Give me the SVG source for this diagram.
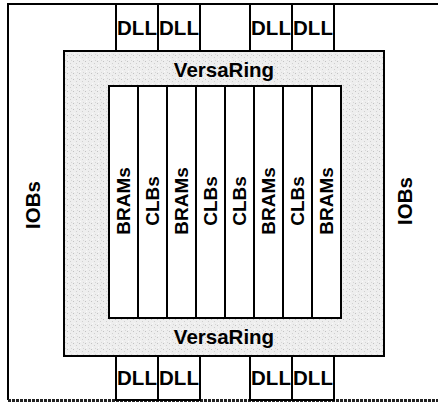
<svg xmlns="http://www.w3.org/2000/svg" width="438" height="405" viewBox="0 0 438 405">
<style>
.ln{fill:none;stroke:#000;stroke-width:2}
.box{fill:#fff;stroke:#000;stroke-width:2}
.t{font-family:"Liberation Sans",Arial,sans-serif;font-weight:bold;font-size:20.5px;fill:#000;text-anchor:middle}
.c{font-family:"Liberation Sans",Arial,sans-serif;font-weight:bold;font-size:19px;fill:#000;text-anchor:middle}
</style>
<defs>
<pattern id="stip" width="6" height="6" patternUnits="userSpaceOnUse">
<rect width="6" height="6" fill="#eeeeee"/>
<rect x="1" y="1" width="1" height="1" fill="#c2c2c2"/>
<rect x="4" y="3" width="1" height="1" fill="#cfcfcf"/>
<rect x="2" y="5" width="1" height="1" fill="#fafafa"/>
<rect x="5" y="0" width="1" height="1" fill="#d6d6d6"/>
</pattern>
</defs>
<rect width="438" height="405" fill="#fff"/>
<g id="chip">
<path class="ln" d="M442,4 H8 V400"/>
<path d="M8,400.5 H442" fill="none" stroke="#222" stroke-width="3" stroke-dasharray="3,1"/>
</g>
<g id="iobs-left"><text class="t" x="0" y="0" transform="translate(40,205) rotate(-90)">IOBs</text></g>
<g id="iobs-right"><text class="t" x="0" y="0" transform="translate(412,201) rotate(-90)">IOBs</text></g>
<g id="dll-top-1"><rect class="box" x="116" y="4" width="42" height="47"/><text class="t" x="137" y="35">DLL</text></g>
<g id="dll-top-2"><rect class="box" x="158" y="4" width="42" height="47"/><text class="t" x="179" y="35">DLL</text></g>
<g id="dll-top-3"><rect class="box" x="250" y="4" width="42" height="47"/><text class="t" x="271" y="35">DLL</text></g>
<g id="dll-top-4"><rect class="box" x="292" y="4" width="42" height="47"/><text class="t" x="313" y="35">DLL</text></g>
<g id="dll-bot-1"><rect class="box" x="116" y="356" width="42" height="44"/><text class="t" x="137" y="385">DLL</text></g>
<g id="dll-bot-2"><rect class="box" x="158" y="356" width="42" height="44"/><text class="t" x="179" y="385">DLL</text></g>
<g id="dll-bot-3"><rect class="box" x="250" y="356" width="42" height="44"/><text class="t" x="271" y="385">DLL</text></g>
<g id="dll-bot-4"><rect class="box" x="292" y="356" width="42" height="44"/><text class="t" x="313" y="385">DLL</text></g>
<g id="versaring">
<rect x="64" y="51" width="320" height="305" fill="url(#stip)" stroke="#000" stroke-width="2"/>
<text class="t" x="224" y="77">VersaRing</text>
<text class="t" x="224" y="344">VersaRing</text>
</g>
<g id="array">
<rect class="box" x="109" y="86" width="232" height="232"/>
<path class="ln" d="M138,86V318M167,86V318M196,86V318M225,86V318M254,86V318M283,86V318M312,86V318"/>
</g>
<g id="col-1"><text class="c" transform="translate(130,201) rotate(-90)">BRAMs</text></g>
<g id="col-2"><text class="c" transform="translate(159,201) rotate(-90)">CLBs</text></g>
<g id="col-3"><text class="c" transform="translate(188,201) rotate(-90)">BRAMs</text></g>
<g id="col-4"><text class="c" transform="translate(217,201) rotate(-90)">CLBs</text></g>
<g id="col-5"><text class="c" transform="translate(246,201) rotate(-90)">CLBs</text></g>
<g id="col-6"><text class="c" transform="translate(275,201) rotate(-90)">BRAMs</text></g>
<g id="col-7"><text class="c" transform="translate(304,201) rotate(-90)">CLBs</text></g>
<g id="col-8"><text class="c" transform="translate(333,201) rotate(-90)">BRAMs</text></g>
</svg>
